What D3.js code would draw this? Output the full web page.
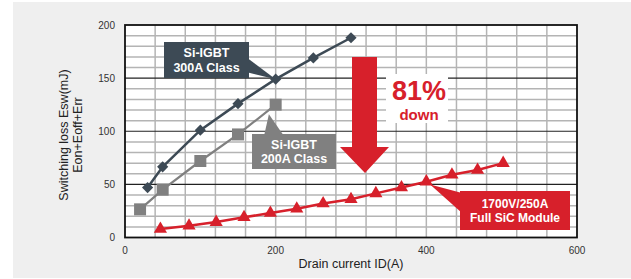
<!DOCTYPE html>
<html><head><meta charset="utf-8">
<script src="https://cdn.jsdelivr.net/npm/d3@7"></script>
<style>body{margin:0;background:#fff}svg{display:block;font-family:"Liberation Sans",Arial,sans-serif}</style>
</head><body><svg id="c" width="631" height="279"></svg>
<script>
const xTicks = [0, 200, 400, 600];
const yTicks = [0, 50, 100, 150, 200];
const igbt300X = [30, 50, 100, 150, 200, 250, 300];
const igbt300Y = [47, 66.5, 101, 126, 149, 169, 188];
const igbt200X = [20, 50, 100, 150, 200];
const igbt200Y = [26.5, 45, 72, 97, 125];
const sicX = [47, 85, 121, 158, 193, 228, 263, 300, 333, 367, 400, 434, 468, 502];
const sicY = [8, 11, 14.5, 19, 23, 27, 32, 36, 41.5, 47, 52.5, 59, 63.5, 70];
const labels = {l300: ["Si-IGBT", "300A Class"], l200: ["Si-IGBT", "200A Class"], sic: ["1700V/250A", "Full SiC Module"], pct: "81%", down: "down"};

const svg = d3.select("#c");
const x = d3.scaleLinear().domain([0, 600]).range([125, 577]);
const y = d3.scaleLinear().domain([0, 200]).range([237.5, 25]);
const C300 = "#3d4a55", C200 = "#808080", CRED = "#d7202b";

svg.append("rect").attr("x", 13).attr("y", 2).attr("width", 618).attr("height", 276).attr("fill", "#efefef");
svg.append("rect").attr("x", x(0)).attr("y", y(200)).attr("width", x(600) - x(0)).attr("height", y(0) - y(200)).attr("fill", "#fff");

// grid
const g = svg.append("g");
d3.range(40, 600, 40).forEach(v => g.append("line").attr("x1", x(v)).attr("x2", x(v)).attr("y1", y(0)).attr("y2", y(200)).attr("stroke", "#b4b4b4").attr("stroke-width", 1.5));
d3.range(10, 200, 10).forEach(v => g.append("line").attr("x1", x(0)).attr("x2", x(600)).attr("y1", y(v)).attr("y2", y(v))
  .attr("stroke", v % 50 === 0 ? "#222" : "#b4b4b4").attr("stroke-width", v % 50 === 0 ? 1.2 : 1.5));
svg.append("rect").attr("x", x(0)).attr("y", y(200)).attr("width", x(600) - x(0)).attr("height", y(0) - y(200))
  .attr("fill", "none").attr("stroke", "#111").attr("stroke-width", 1.8);

// ticks
svg.append("g").selectAll("text").data(yTicks).join("text").attr("x", 115).attr("y", d => y(d) + 3.5)
  .attr("text-anchor", "end").attr("font-size", 10).attr("fill", "#333").text(d => d);
svg.append("g").selectAll("text").data(xTicks).join("text").attr("x", d => x(d)).attr("y", 254)
  .attr("text-anchor", "middle").attr("font-size", 10).attr("fill", "#333").text(d => d);
svg.append("text").attr("x", 351).attr("y", 268).attr("text-anchor", "middle").attr("font-size", 12.5).attr("fill", "#222").text("Drain current ID(A)");
const yt = svg.append("text").attr("transform", "translate(68,135) rotate(-90)").attr("text-anchor", "middle").attr("font-size", 12.5).attr("fill", "#222");
yt.append("tspan").attr("x", 0).attr("dy", 0).text("Switching loss Esw(mJ)");
yt.append("tspan").attr("x", 0).attr("dy", 14).text("Eon+Eoff+Err");

// lines
const line = d3.line().x(d => x(d[0])).y(d => y(d[1]));
const s300 = igbt300X.map((v, i) => [v, igbt300Y[i]]);
const s200 = igbt200X.map((v, i) => [v, igbt200Y[i]]);
const sic = sicX.map((v, i) => [v, sicY[i]]);
svg.append("path").attr("d", line(s200)).attr("fill", "none").attr("stroke", C200).attr("stroke-width", 2.2);
svg.append("path").attr("d", line(s300)).attr("fill", "none").attr("stroke", C300).attr("stroke-width", 2.5);
svg.append("path").attr("d", line(sic)).attr("fill", "none").attr("stroke", CRED).attr("stroke-width", 2.5);

svg.append("g").selectAll("rect").data(s200).join("rect").attr("x", d => x(d[0]) - 6).attr("y", d => y(d[1]) - 6)
  .attr("width", 12).attr("height", 12).attr("fill", C200);
svg.append("g").selectAll("path").data(s300).join("path")
  .attr("d", d3.symbol(d3.symbolDiamond2, 80)).attr("transform", d => `translate(${x(d[0])},${y(d[1])})`).attr("fill", C300);
svg.append("g").selectAll("path").data(sic).join("path")
  .attr("d", d3.symbol(d3.symbolTriangle, 75)).attr("transform", d => `translate(${x(d[0])},${y(d[1])})`).attr("fill", CRED);

// callouts
function callout(box, ptr, color, lines, fs) {
  svg.append("path").attr("d", d3.line()(ptr) + "Z").attr("fill", color);
  svg.append("rect").attr("x", box[0]).attr("y", box[1]).attr("width", box[2] - box[0]).attr("height", box[3] - box[1]).attr("fill", color);
  const cx = (box[0] + box[2]) / 2, cy = (box[1] + box[3]) / 2;
  lines.forEach((t, i) => svg.append("text").attr("x", cx).attr("y", cy + (i - (lines.length - 1) / 2) * 14.5 + 4.5)
    .attr("text-anchor", "middle").attr("font-size", fs).attr("font-weight", "bold").attr("fill", "#fff").text(t));
}
callout([164, 42, 249, 78], [[246, 57], [x(200), y(149)], [246, 72]], C300, labels.l300, 12.5);
callout([252, 134, 336, 169], [[264, 136], [x(191), y(116)], [284, 136]], C200, labels.l200, 12.5);
callout([460, 191, 570, 230], [[462, 193], [x(405), y(50)], [462, 213]], CRED, labels.sic, 12);

// arrow
svg.append("path").attr("d", d3.line()([[352, 57], [377, 57], [377, 147], [389, 147], [365, 173], [340, 147], [352, 147]]) + "Z").attr("fill", CRED);
svg.append("rect").attr("x", 386).attr("y", 74).attr("width", 62).attr("height", 49).attr("fill", "#fff");
svg.append("text").attr("x", 419).attr("y", 100).attr("text-anchor", "middle").attr("font-size", 27).attr("font-weight", "bold").attr("fill", CRED).text(labels.pct);
svg.append("text").attr("x", 419).attr("y", 120).attr("text-anchor", "middle").attr("font-size", 15).attr("font-weight", "bold").attr("fill", CRED).text(labels.down);
</script></body></html>
